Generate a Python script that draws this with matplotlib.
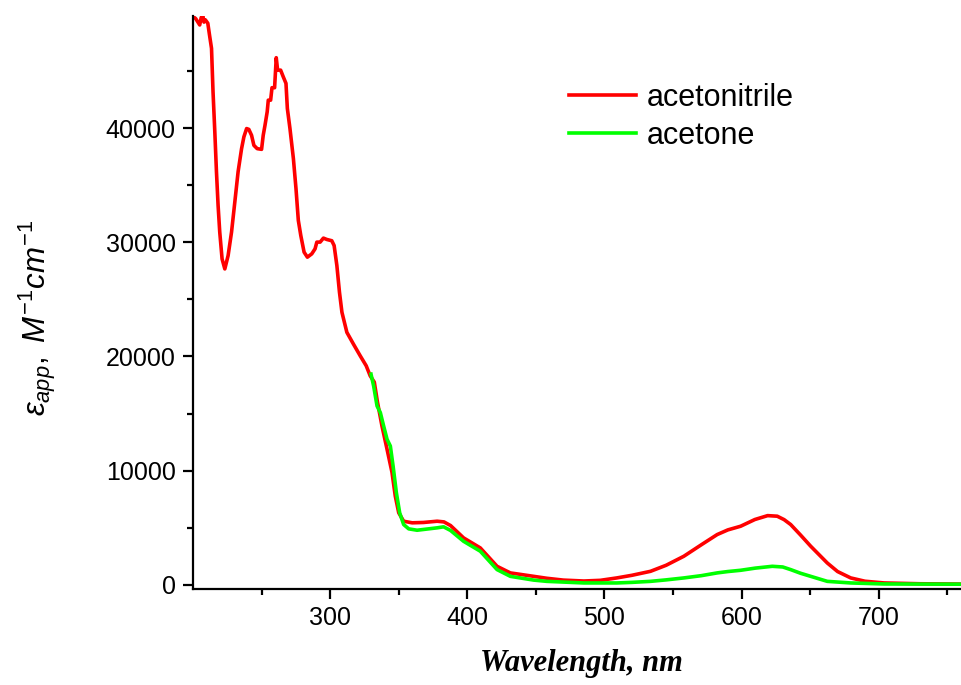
import numpy as np
import matplotlib
matplotlib.use('Agg')
import matplotlib.pyplot as plt

# acetonitrile (red)
wl_acn = np.array([200, 202, 204.9, 206, 207.1, 208, 209, 210.8, 212, 213.5,
                   214.6, 215.9, 217.1, 218.3, 219.5, 221.2, 223.2, 225.6, 228.1, 230.5,
                   232.9, 235.4, 237.1, 239.1, 240.7, 242.7, 244.4, 246.8, 250.0, 251.2,
                   252.5, 254.1, 254.9, 256.6, 257.6, 259.5, 260.7, 261.7, 263.9, 265.8,
                   267.8, 268.8, 270.7, 273.2, 275.1, 276.8, 278.6, 281.0, 283.4, 286.6,
                   289.0, 290.3, 292.7, 295.1, 297.6, 301.2, 302.9, 304.9, 306.8, 308.6,
                   312.2, 317.0, 321.9, 326.3, 329.2, 332.2, 334.5, 337.8, 341.5, 345.1,
                   347.5, 350.0, 353.6, 359.8, 368, 378, 383, 387.8, 397.3, 409.5,
                   421.7, 431.4, 448.4, 458, 470, 485, 497, 509, 520, 533.6,
                   545, 557.9, 570.7, 582.2, 590, 599.3, 609.7, 619, 626, 631,
                   635.8, 643, 650.4, 662.5, 670, 679.6, 690, 704, 730, 760])
eps_acn = np.array([49800, 49600, 49050, 49700, 49900, 49300, 49500, 49200, 48200, 47000,
                    43200, 39700, 36200, 33230, 30900, 28550, 27670, 28840, 30900, 33540,
                    36200, 38200, 39240, 39970, 39900, 39380, 38500, 38210, 38150, 39380,
                    40260, 41440, 42460, 42460, 43550, 43550, 46180, 45090, 45090, 44510,
                    43930, 41730, 39970, 37340, 34700, 31920, 30600, 29140, 28700, 28990,
                    29430, 30020, 30020, 30370, 30250, 30140, 29720, 27970, 25630, 23870,
                    22110, 21080, 20060, 19180, 18300, 17750, 16000, 13900, 11860, 9840,
                    7760, 6300, 5560, 5420, 5450, 5560, 5500, 5180, 4100, 3220,
                    1610, 1030, 730, 560, 400, 320, 380, 590, 820, 1170,
                    1700, 2490, 3500, 4390, 4800, 5120, 5710, 6050, 6000, 5700,
                    5270, 4350, 3370, 1900, 1150, 590, 300, 150, 80, 50])

# acetone (green)
wl_ace = np.array([329.8, 331.7, 334.2, 336.6, 339.0, 341.5, 343.9, 345.9, 348.3, 350.7,
                   353.6, 357.3, 363.4, 378, 382.7, 387.8, 397.3, 409.5, 421.7, 431.4,
                   448.4, 458, 485, 509, 520, 533.6, 545, 557.9, 570.7, 582.2,
                   590, 599.3, 610, 622.4, 630, 635.8, 643, 650.4, 662.5, 679.6,
                   704, 760])
eps_ace = np.array([18450, 17420, 15660, 15080, 13910, 12740, 12150, 10390, 8050, 6300,
                    5270, 4890, 4770, 4980, 5070, 4750, 3800, 2930, 1320, 730,
                    400, 290, 150, 150, 200, 290, 420, 590, 790, 1030,
                    1150, 1260, 1450, 1610, 1550, 1320, 1000, 730, 290, 150,
                    60, 40])

plt.rcParams['font.family'] = ['Liberation Sans', 'DejaVu Sans']
plt.rcParams['mathtext.fontset'] = 'custom'
plt.rcParams['mathtext.it'] = 'Liberation Sans:italic'
plt.rcParams['mathtext.rm'] = 'Liberation Sans'

fig = plt.figure(figsize=(9.61, 6.85), dpi=100)
ax = fig.add_axes([193 / 961, 96 / 685, 768 / 961, 572.6 / 685])

ax.plot(wl_acn, eps_acn, color='#ff0000', lw=2.6, label='acetonitrile')
ax.plot(wl_ace, eps_ace, color='#00ff00', lw=2.6, label='acetone')

ax.set_xlim(200, 760)
ax.set_ylim(-380, 49800)
ax.set_xticks([300, 400, 500, 600, 700])
ax.set_xticks(np.arange(250, 760, 100), minor=True)
ax.set_yticks([0, 10000, 20000, 30000, 40000])
ax.set_yticks(np.arange(5000, 49000, 10000), minor=True)

for s in ['top', 'right']:
    ax.spines[s].set_visible(False)
for s in ['left', 'bottom']:
    ax.spines[s].set_linewidth(1.6)
ax.tick_params(which='major', length=7.5, width=1.6, labelsize=18, pad=5)
ax.tick_params(which='minor', length=4.5, width=1.6)

fig.text(37 / 961, 1 - 318 / 685, r'$\varepsilon_{app},\ M^{-1}cm^{-1}$',
         rotation=90, ha='center', va='center', fontsize=22.5)
fig.text(581 / 961, 1 - 663 / 685, 'Wavelength, nm', ha='center', va='center',
         fontsize=22, family='Liberation Serif', weight='bold', style='italic')

ax.legend(loc='upper left', bbox_to_anchor=(569 / 961, 1 - 83 / 685),
          bbox_transform=fig.transFigure, frameon=False, fontsize=22,
          handlelength=2.2, handletextpad=0.35, labelspacing=0.25,
          borderpad=0, borderaxespad=0)

plt.savefig('out.png', dpi=100)
